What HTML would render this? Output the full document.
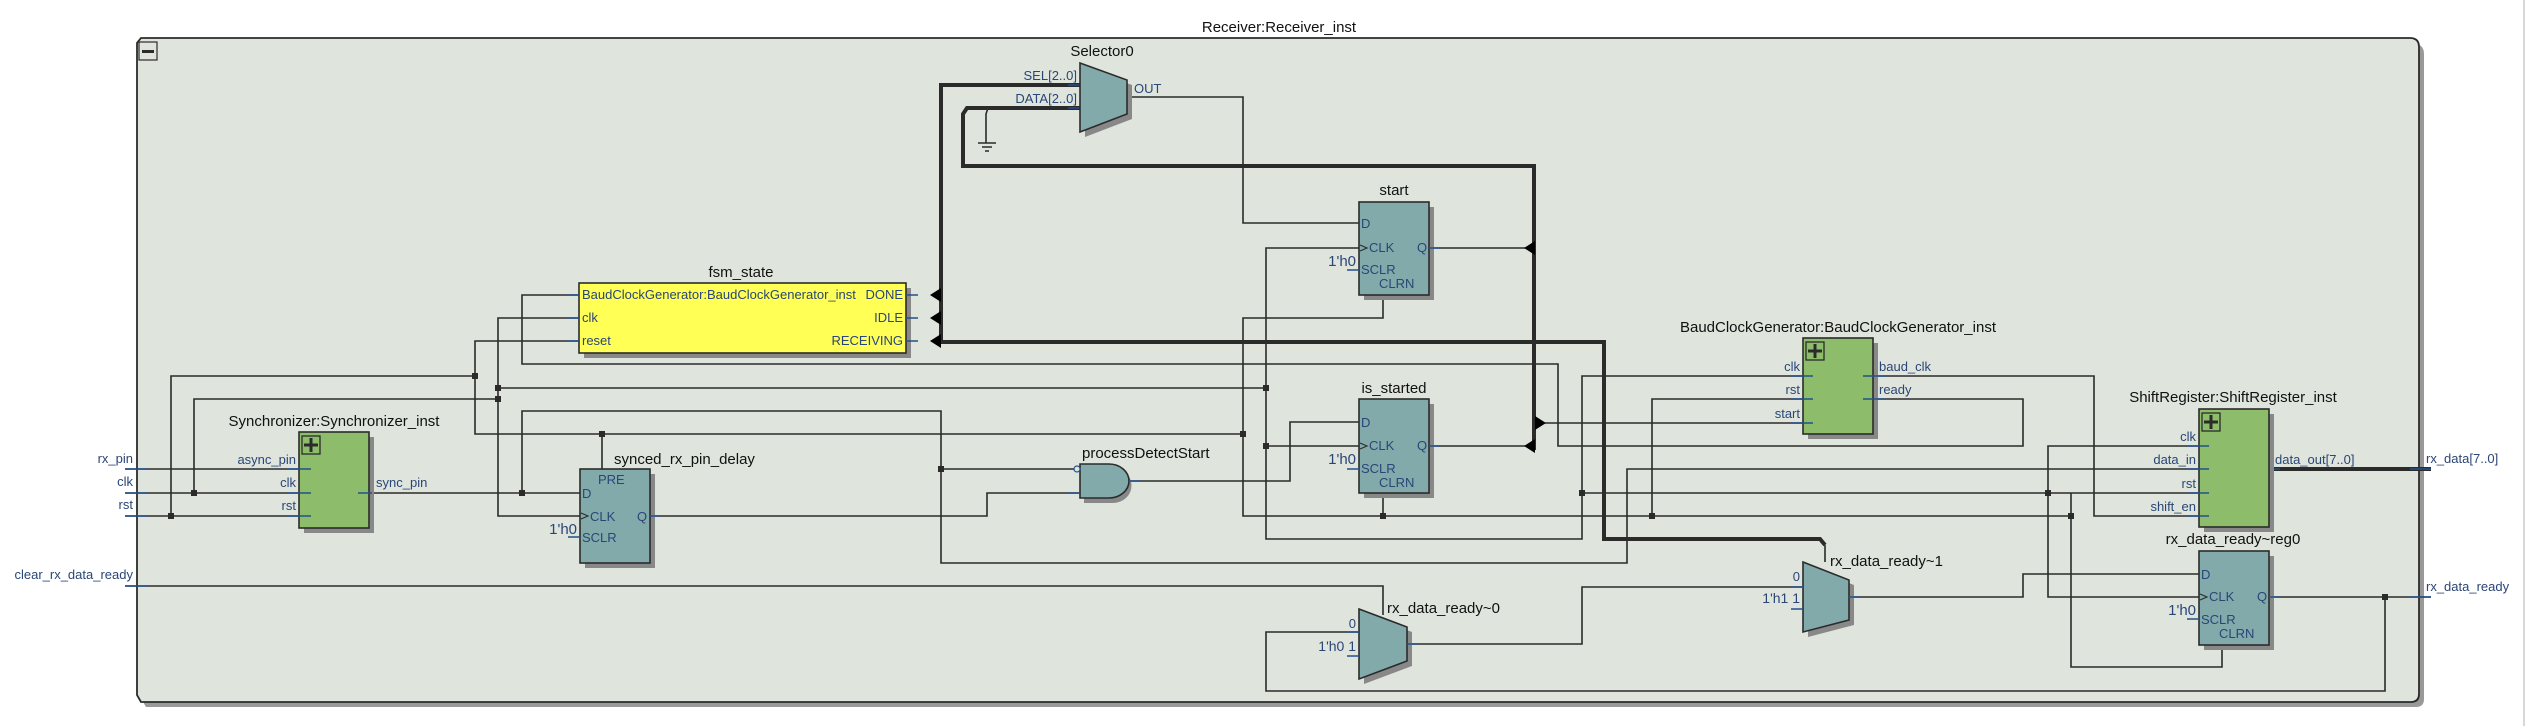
<!DOCTYPE html>
<html><head><meta charset="utf-8"><style>
html,body{margin:0;padding:0;background:#fff;}
svg{display:block;}
text{font-family:"Liberation Sans","DejaVu Sans",sans-serif;}
.l{font-size:15px;fill:#111;}
.p{font-size:13px;fill:#2a4677;}
.w{stroke:#2b2b2b;stroke-width:1.6;fill:none;}
.b{stroke:#2b2b2b;stroke-width:4;fill:none;}
.s{stroke:#24508c;stroke-width:1.6;fill:none;}
.ff{fill:#82aaaa;stroke:#2b2b2b;stroke-width:1.6;}
.gr{fill:#8dbd6a;stroke:#2b2b2b;stroke-width:1.6;}
.sh{fill:#888;}
.ck{stroke:#2b2b2b;stroke-width:1.1;fill:none;}
</style></head><body>
<svg width="2532" height="726" viewBox="0 0 2532 726" xmlns="http://www.w3.org/2000/svg">
<rect width="2532" height="726" fill="#fff"/>
<line x1="2524" y1="0" x2="2524" y2="726" stroke="#ccc" stroke-width="1.5"/>
<text class="l" x="1279" y="32" text-anchor="middle">Receiver:Receiver_inst</text>
<!-- outer box -->
<path d="M143 44 H2414 Q2424 44 2424 54 V699 Q2424 707 2416 707 H146 L143 702 Z" fill="#999"/>
<path d="M141 38 H2410 Q2419 38 2419 47 V694 Q2419 702 2411 702 H141 L137 695 V43 Z" fill="#dfe5dd" stroke="#2b2b2b" stroke-width="1.8"/>
<rect x="139" y="42" width="18" height="18" fill="#dfe5dd" stroke="#2b2b2b" stroke-width="1.2"/>
<rect x="142" y="50" width="12" height="3" fill="#2b2b2b"/>

<!-- input ports -->
<g class="p" text-anchor="end">
<text x="133" y="463">rx_pin</text><text x="133" y="486">clk</text><text x="133" y="509">rst</text>
<text x="133" y="579">clear_rx_data_ready</text></g>
<g class="w">
<path d="M125 469 H311"/><path d="M125 493 H311"/><path d="M125 516 H311"/>
<path d="M125 586 H1383 V609"/>
</g>
<g class="s"><path d="M125 469 H147 M125 493 H147 M125 516 H147 M125 586 H147"/></g>

<!-- wires -->
<g class="w">
<path d="M194 493 V399 H498"/>
<path d="M171 516 V376 H475"/>
<path d="M579 295 H522 V364 H1558 V446 H2023 V399 H1873"/>
<path d="M579 318 H498 V516 H580"/>
<path d="M579 341 H475 V434 H1243"/>
<path d="M498 388 H1266"/>
<path d="M602 434 V469"/>
<path d="M358 493 H580"/>
<path d="M522 493 V411 H941 V563 H1627 V469 H2199"/>
<path d="M941 469 H1076"/>
<path d="M650 516 H987 V493 H1080"/>
<path d="M1129 481 H1290 V422 H1359"/>
<path d="M1127 97 H1243 V223 H1359"/>
<path d="M1359 248 H1266 V539 H1582 V376 H1803"/>
<path d="M1266 446 H1359"/>
<path d="M1383 295 V318 H1243 V516 H2071"/>
<path d="M1383 493 V516"/>
<path d="M1429 248 H1525"/>
<path d="M1429 446 H1525"/>
<path d="M1545 423 H1803"/>
<path d="M1803 399 H1652 V516"/>
<path d="M1873 376 H2094 V516 H2199"/>
<path d="M1582 493 H2199"/>
<path d="M2199 446 H2048 V597 H2199"/>
<path d="M2071 493 V667 H2222 V645"/>
<path d="M1383 609 V615"/>
<path d="M1359 632 H1266 V691 H2385 V597"/>
<path d="M1407 644 H1582 V587 H1802"/>
<path d="M1849 597 H2023 V574 H2199"/>
<path d="M2269 597 H2431"/>
<path d="M988 108 L986 114 V143"/>
<path d="M978 143 H996 M982 147 H992 M985 151 H989"/>
</g>
<!-- buses -->
<g class="b">
<path d="M1080 85 H941 V342"/>
<path d="M941 342 H1604 V539 H1820 L1825 545"/>
<path d="M1080 108 H967 L963 114 V166 H1534 V450"/>
<path d="M2259 469 H2431"/>
</g>
<path d="M1825 545 V562" class="w"/>
<g class="s"><path d="M1068 85 H1080 M1068 108 H1080 M2259 469 H2280 M2410 469 H2431"/></g>
<!-- arrowheads -->
<g fill="#000">
<path d="M930 295 L941 288 V302 Z"/><path d="M930 318 L941 311 V325 Z"/><path d="M930 341 L941 334 V348 Z"/>
<path d="M1524 248 L1535 241 V255 Z"/><path d="M1524 446 L1535 439 V453 Z"/>
<path d="M1546 423 L1535 416 V430 Z"/>
</g>
<!-- junctions -->
<g fill="#2b2b2b">
<rect x="191" y="490" width="6" height="6"/><rect x="168" y="513" width="6" height="6"/>
<rect x="472" y="373" width="6" height="6"/><rect x="495" y="385" width="6" height="6"/><rect x="495" y="396" width="6" height="6"/>
<rect x="599" y="431" width="6" height="6"/><rect x="519" y="490" width="6" height="6"/><rect x="938" y="466" width="6" height="6"/>
<rect x="1240" y="431" width="6" height="6"/><rect x="1263" y="385" width="6" height="6"/><rect x="1263" y="443" width="6" height="6"/>
<rect x="1380" y="513" width="6" height="6"/><rect x="1579" y="490" width="6" height="6"/><rect x="1649" y="513" width="6" height="6"/>
<rect x="2045" y="490" width="6" height="6"/><rect x="2068" y="513" width="6" height="6"/><rect x="2382" y="594" width="6" height="6"/>
</g>

<!-- Selector0 -->
<text class="l" x="1102" y="56" text-anchor="middle">Selector0</text>
<path d="M1085 68 L1132 85 V119 L1085 137 Z" class="sh"/>
<path d="M1080 63 L1127 80 V114 L1080 132 Z" fill="#82aaaa" stroke="#2b2b2b" stroke-width="1.6"/>
<g class="p"><text x="1077" y="80" text-anchor="end">SEL[2..0]</text><text x="1077" y="103" text-anchor="end">DATA[2..0]</text><text x="1134" y="93">OUT</text></g>

<!-- fsm_state -->
<text class="l" x="741" y="277" text-anchor="middle">fsm_state</text>
<rect x="584" y="288" width="327" height="70" class="sh"/>
<rect x="579" y="283" width="327" height="70" fill="#ffff55" stroke="#2b2b2b" stroke-width="1.6"/>
<g class="p"><text x="582" y="299">BaudClockGenerator:BaudClockGenerator_inst</text><text x="582" y="322">clk</text><text x="582" y="345">reset</text>
<text x="903" y="299" text-anchor="end">DONE</text><text x="903" y="322" text-anchor="end">IDLE</text><text x="903" y="345" text-anchor="end">RECEIVING</text></g>
<g class="s"><path d="M567 295 H579 M567 318 H579 M567 341 H579 M906 295 H918 M906 318 H918 M906 341 H918"/></g>

<!-- Synchronizer -->
<text class="l" x="334" y="426" text-anchor="middle">Synchronizer:Synchronizer_inst</text>
<rect x="304" y="437" width="70" height="96" class="sh"/>
<rect x="299" y="432" width="70" height="96" class="gr"/>
<rect x="302" y="436" width="18" height="18" fill="none" stroke="#2b2b2b" stroke-width="1.3"/>
<path d="M311 438 V452 M304 445 H318" stroke="#2b2b2b" stroke-width="3"/>
<g class="p" text-anchor="end"><text x="296" y="464">async_pin</text><text x="296" y="487">clk</text><text x="296" y="510">rst</text></g>
<text class="p" x="376" y="487">sync_pin</text>
<g class="s"><path d="M288 469 H311 M288 493 H311 M288 516 H311 M358 493 H372"/></g>

<!-- synced_rx_pin_delay -->
<text class="l" x="614" y="464">synced_rx_pin_delay</text>
<rect x="585" y="474" width="70" height="94" class="sh"/>
<rect x="580" y="469" width="70" height="94" class="ff"/>
<g class="p"><text x="598" y="484">PRE</text><text x="582" y="498">D</text><text x="590" y="521">CLK</text><text x="582" y="542">SCLR</text><text x="637" y="521">Q</text><text x="577" y="534" text-anchor="end" style="font-size:15px">1'h0</text></g>
<path class="ck" d="M581 513 L588 516 L581 519"/>
<g class="s"><path d="M568 537 H580 M650 516 H660"/></g>

<!-- processDetectStart -->
<text class="l" x="1082" y="458">processDetectStart</text>
<path d="M1084 468 H1113 A18 17 0 0 1 1113 503 H1084 Z" class="sh"/>
<path d="M1080 464 H1109 A20 17 0 0 1 1109 498 H1080 Z" fill="#82aaaa" stroke="#2b2b2b" stroke-width="1.6"/>
<circle cx="1077" cy="469" r="3" fill="#dfe5dd" stroke="#24508c" stroke-width="1.2"/>
<g class="s"><path d="M1068 493 H1080 M1129 481 H1140"/></g>

<!-- start -->
<text class="l" x="1394" y="195" text-anchor="middle">start</text>
<rect x="1364" y="207" width="70" height="93" class="sh"/>
<rect x="1359" y="202" width="70" height="93" class="ff"/>
<g class="p"><text x="1361" y="228">D</text><text x="1369" y="252">CLK</text><text x="1361" y="274">SCLR</text><text x="1379" y="288">CLRN</text><text x="1417" y="252">Q</text><text x="1356" y="266" text-anchor="end" style="font-size:15px">1'h0</text></g>
<path class="ck" d="M1360 245 L1367 248 L1360 251"/>
<g class="s"><path d="M1347 270 H1359 M1429 248 H1440"/></g>
<!-- is_started -->
<text class="l" x="1394" y="393" text-anchor="middle">is_started</text>
<rect x="1364" y="404" width="70" height="94" class="sh"/>
<rect x="1359" y="399" width="70" height="94" class="ff"/>
<g class="p"><text x="1361" y="427">D</text><text x="1369" y="450">CLK</text><text x="1361" y="473">SCLR</text><text x="1379" y="487">CLRN</text><text x="1417" y="450">Q</text><text x="1356" y="464" text-anchor="end" style="font-size:15px">1'h0</text></g>
<path class="ck" d="M1360 443 L1367 446 L1360 449"/>
<g class="s"><path d="M1347 469 H1359 M1429 446 H1440"/></g>

<!-- BaudClockGenerator -->
<text class="l" x="1838" y="332" text-anchor="middle">BaudClockGenerator:BaudClockGenerator_inst</text>
<rect x="1808" y="343" width="70" height="96" class="sh"/>
<rect x="1803" y="338" width="70" height="96" class="gr"/>
<rect x="1806" y="342" width="18" height="18" fill="none" stroke="#2b2b2b" stroke-width="1.3"/>
<path d="M1815 344 V358 M1808 351 H1822" stroke="#2b2b2b" stroke-width="3"/>
<g class="p" text-anchor="end"><text x="1800" y="371">clk</text><text x="1800" y="394">rst</text><text x="1800" y="418">start</text></g>
<g class="p"><text x="1879" y="371">baud_clk</text><text x="1879" y="394">ready</text></g>
<g class="s"><path d="M1791 376 H1813 M1791 399 H1813 M1791 423 H1813 M1863 376 H1885 M1863 399 H1885"/></g>

<!-- ShiftRegister -->
<text class="l" x="2233" y="402" text-anchor="middle">ShiftRegister:ShiftRegister_inst</text>
<rect x="2204" y="414" width="70" height="118" class="sh"/>
<rect x="2199" y="409" width="70" height="118" class="gr"/>
<rect x="2202" y="413" width="18" height="18" fill="none" stroke="#2b2b2b" stroke-width="1.3"/>
<path d="M2211 415 V429 M2204 422 H2218" stroke="#2b2b2b" stroke-width="3"/>
<g class="p" text-anchor="end"><text x="2196" y="441">clk</text><text x="2196" y="464">data_in</text><text x="2196" y="488">rst</text><text x="2196" y="511">shift_en</text></g>
<text class="p" x="2275" y="464">data_out[7..0]</text>
<text class="p" x="2426" y="463">rx_data[7..0]</text>
<g class="s"><path d="M2187 446 H2209 M2187 469 H2209 M2187 493 H2209 M2187 516 H2209"/></g>

<!-- rx_data_ready~reg0 -->
<text class="l" x="2233" y="544" text-anchor="middle">rx_data_ready~reg0</text>
<rect x="2204" y="556" width="70" height="94" class="sh"/>
<rect x="2199" y="551" width="70" height="94" class="ff"/>
<g class="p"><text x="2201" y="579">D</text><text x="2209" y="601">CLK</text><text x="2201" y="624">SCLR</text><text x="2219" y="638">CLRN</text><text x="2257" y="601">Q</text><text x="2196" y="615" text-anchor="end" style="font-size:15px">1'h0</text></g>
<path class="ck" d="M2200 594 L2207 597 L2200 600"/>
<text class="p" x="2426" y="591">rx_data_ready</text>
<g class="s"><path d="M2187 619 H2199 M2269 597 H2280 M2410 597 H2431"/></g>

<!-- rx_data_ready~0 -->
<text class="l" x="1387" y="613">rx_data_ready~0</text>
<path d="M1364 614 L1412 632 V666 L1364 684 Z" class="sh"/>
<path d="M1359 609 L1407 627 V661 L1359 679 Z" fill="#82aaaa" stroke="#2b2b2b" stroke-width="1.6"/>
<g class="p" text-anchor="end"><text x="1356" y="628">0</text><text x="1356" y="651" style="font-size:14px">1'h0 1</text></g>
<g class="s"><path d="M1347 632 H1359 M1347 656 H1359 M1407 644 H1418"/></g>

<!-- rx_data_ready~1 -->
<text class="l" x="1830" y="566">rx_data_ready~1</text>
<path d="M1808 567 L1854 585 V625 L1808 637 Z" class="sh"/>
<path d="M1803 562 L1849 580 V620 L1803 632 Z" fill="#82aaaa" stroke="#2b2b2b" stroke-width="1.6"/>
<g class="p" text-anchor="end"><text x="1800" y="581">0</text><text x="1800" y="603" style="font-size:14px">1'h1 1</text></g>
<g class="s"><path d="M1791 587 H1803 M1791 609 H1803 M1849 597 H1860"/></g>
</svg>
</body></html>
